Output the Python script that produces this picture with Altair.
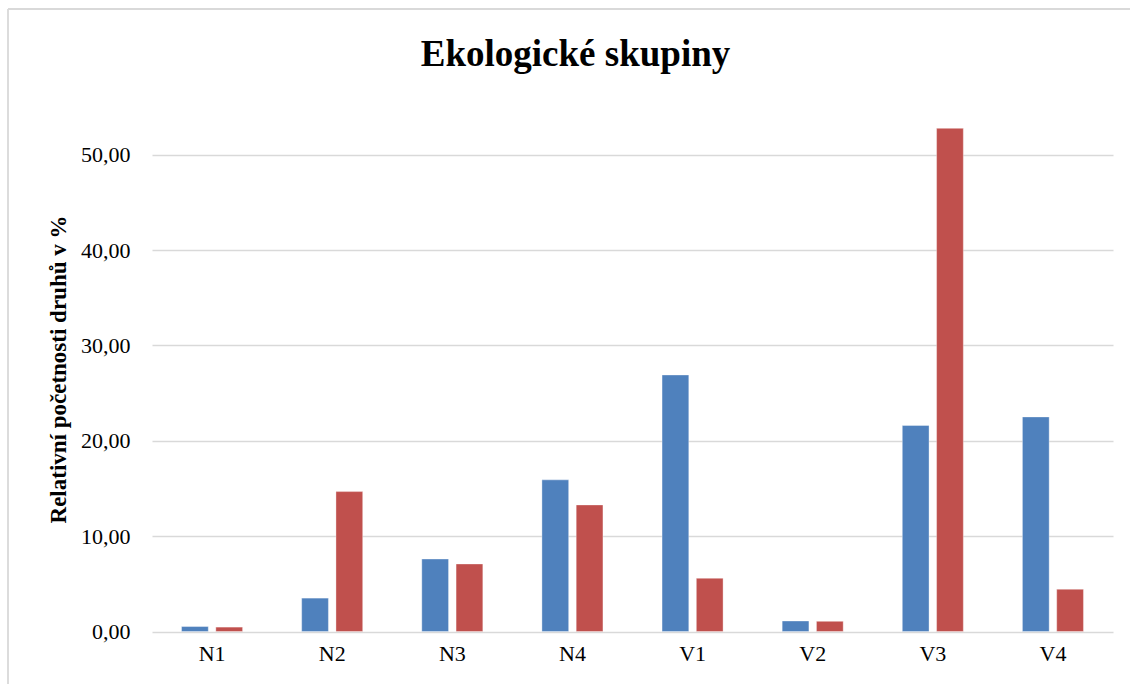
import altair as alt
import pandas as pd

categories = ["N1", "N2", "N3", "N4", "V1", "V2", "V3", "V4"]
series_names = ["Řada 1", "Řada 2"]
blue_values = [0.52, 3.50, 7.60, 15.90, 26.90, 1.10, 21.60, 22.50]
red_values = [0.46, 14.67, 7.08, 13.27, 5.58, 1.07, 52.76, 4.43]
colors = ["#4F81BD", "#C0504D"]

rows = []
for c, b, r in zip(categories, blue_values, red_values):
    rows.append({"kat": c, "rada": series_names[0], "hodnota": b})
    rows.append({"kat": c, "rada": series_names[1], "hodnota": r})
df = pd.DataFrame(rows)

FONT = "Liberation Serif"

bars = alt.Chart(df).mark_bar(stroke="white", strokeOpacity=0.35, strokeWidth=1).encode(
    x=alt.X("kat:N", sort=categories,
            scale=alt.Scale(paddingInner=0.492, paddingOuter=0.246),
            axis=alt.Axis(title=None, labelAngle=0, domain=False, ticks=False,
                          labelPadding=12, labelFontSize=22, labelFont=FONT,
                          labelColor="#000000", grid=False)),
    xOffset=alt.XOffset("rada:N", sort=series_names,
                        scale=alt.Scale(paddingInner=0.22, paddingOuter=0)),
    y=alt.Y("hodnota:Q",
            scale=alt.Scale(domain=[0, 55], nice=False, zero=True),
            axis=alt.Axis(values=[0, 10, 20, 30, 40, 50],
                          labelExpr="replace(format(datum.value, '.2f'), '.', ',')",
                          title="Relativní početnosti druhů v %",
                          titleFont=FONT, titleFontSize=23, titleFontWeight="bold",
                          titleColor="#000000", titleAngle=-90,
                          titleX=-94, titleY=262, titleBaseline="middle",
                          titleAlign="center",
                          labelFont=FONT, labelFontSize=22, labelColor="#000000",
                          labelPadding=22, domain=False, ticks=False,
                          grid=True, gridColor="#D9D9D9", gridWidth=1.6)),
    color=alt.Color("rada:N", sort=series_names,
                    scale=alt.Scale(domain=series_names, range=colors), legend=None),
)

border_left = alt.Chart(pd.DataFrame({"a": [0]})).mark_rule(color="#D9D9D9", strokeWidth=1.8).encode(
    x=alt.value(-144), y=alt.value(-98), y2=alt.value(620)
)
border_top = alt.Chart(pd.DataFrame({"a": [0]})).mark_rule(color="#D9D9D9", strokeWidth=1.8).encode(
    x=alt.value(-144), x2=alt.value(1000), y=alt.value(-98)
)

chart = alt.layer(border_left, border_top, bars).properties(
    width=961,
    height=524.5,
    title=alt.TitleParams("Ekologické skupiny", font=FONT, fontSize=37,
                          fontWeight="bold", color="#000000", anchor="middle",
                          frame="group", dx=-57, offset=-66),
    autosize=alt.AutoSizeParams(type="none"),
    padding={"left": 152, "top": 107, "right": 17, "bottom": 52},
    background="white",
).configure_view(stroke=None)

chart.save("out.html", embed_options={"renderer": "svg", "actions": False})
